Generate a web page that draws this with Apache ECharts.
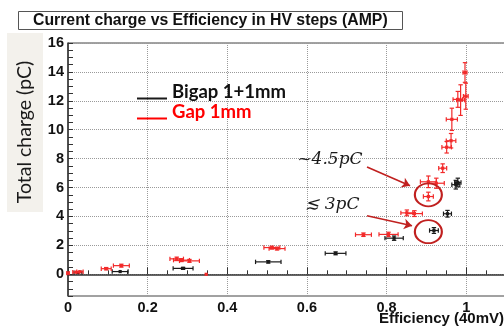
<!DOCTYPE html>
<html>
<head>
<meta charset="utf-8">
<script src="https://cdn.jsdelivr.net/npm/echarts@6/dist/echarts.min.js"></script>
<style>
  html, body { margin: 0; padding: 0; background: #fff; }
  #chart { width: 504px; height: 327px; }
</style>
</head>
<body>
<div id="chart"></div>
<script>
// Gap 1mm (red)
const gapEff = [0.0, 0.02, 0.03, 0.096, 0.134, 0.273, 0.285, 0.305, 0.347, 0.512, 0.525, 0.742, 0.805, 0.851, 0.87, 0.905, 0.905, 0.925, 0.941, 0.951, 0.962, 0.964, 0.979, 0.986, 0.999, 0.997];
const gapCharge = [0.08, 0.15, 0.18, 0.39, 0.6, 1.07, 0.98, 0.93, 0.0, 1.85, 1.78, 2.74, 2.76, 4.25, 4.2, 5.38, 6.4, 6.3, 7.34, 8.79, 9.24, 10.72, 12.1, 12.05, 12.32, 13.96];
const gapEffErr = [0.003, 0.008, 0.008, 0.0125, 0.02, 0.017, 0.02, 0.025, 0, 0.02, 0.02, 0.02, 0.024, 0.015, 0.02, 0.0125, 0.02, 0.02, 0.01, 0.012, 0.012, 0.014, 0.012, 0.01, 0.006, 0.005];
const gapChargeErr = [0.03, 0.05, 0.05, 0.08, 0.1, 0.12, 0.1, 0.1, 0, 0.1, 0.1, 0.12, 0.15, 0.2, 0.2, 0.3, 0.4, 0.35, 0.3, 0.4, 0.5, 0.77, 0.55, 1.06, 0.9, 0.68];

// Bigap 1+1mm (black)
const bigapEff = [0.025, 0.131, 0.289, 0.503, 0.672, 0.819, 0.919, 0.953, 0.974, 0.979];
const bigapCharge = [0.12, 0.19, 0.41, 0.86, 1.45, 2.5, 3.03, 4.19, 6.2, 6.35];
const bigapEffErr = [0.01, 0.02, 0.025, 0.032, 0.026, 0.023, 0.011, 0.01, 0.01, 0.008];
const bigapChargeErr = [0.03, 0.05, 0.07, 0.08, 0.1, 0.15, 0.2, 0.23, 0.3, 0.3];

// annotations: circled points, label anchors, arrows (data coords)
const circleCenters = [[0.905, 5.5], [0.905, 2.95]];
const noteTexts = ['~4.5pC', '\u2272 3pC'];
const noteAnchors = [[0.576, 7.93], [0.596, 4.82]];
const arrowFrom = [[0.751, 7.43], [0.751, 4.05]];
const arrowTo = [[0.859, 6.12], [0.864, 3.36]];

const RED = '#f22a2a';
const BLACK = '#1a1a1a';
const DARKRED = '#c0201f';

const toRows = (x, y, ex, ey) => x.map((v, i) => [v, y[i], ex[i], ey[i]]);

// draws a ROOT-like error cross with end caps
const errorCross = color => (params, api) => {
  const x = api.value(0), y = api.value(1), ex = api.value(2), ey = api.value(3);
  const c = api.coord([x, y]);
  const l = api.coord([x - ex, y]), r = api.coord([x + ex, y]);
  const t = api.coord([x, y + ey]), b = api.coord([x, y - ey]);
  const style = { stroke: color, lineWidth: 1.2 };
  const cap = 2.2;
  const seg = (x1, y1, x2, y2) => ({ type: 'line', shape: { x1, y1, x2, y2 }, style });
  const children = [];
  if (r[0] - l[0] > 1.5) {
    children.push(seg(l[0], c[1], r[0], c[1]));
    children.push(seg(l[0], c[1] - cap, l[0], c[1] + cap));
    children.push(seg(r[0], c[1] - cap, r[0], c[1] + cap));
  }
  if (b[1] - t[1] > 1.5) {
    children.push(seg(c[0], t[1], c[0], b[1]));
    children.push(seg(c[0] - cap, t[1], c[0] + cap, t[1]));
    children.push(seg(c[0] - cap, b[1], c[0] + cap, b[1]));
  }
  children.push({ type: 'rect', shape: { x: c[0] - 1.6, y: c[1] - 1.6, width: 3.2, height: 3.2 }, style: { fill: color } });
  return { type: 'group', children };
};

const chart = echarts.init(document.getElementById('chart'), null, { renderer: 'canvas' });

const option = {
  animation: false,
  backgroundColor: '#fff',
  title: {
    text: 'Current charge vs Efficiency in HV steps (AMP)',
    left: 18,
    top: 11,
    padding: [2, 15, 1, 15],
    borderWidth: 1,
    borderColor: '#555',
    textStyle: { fontFamily: 'Liberation Sans', fontSize: 15.8, fontWeight: 'bold', color: '#111', lineHeight: 16 }
  },
  legend: {
    orient: 'vertical',
    left: 132,
    top: 78,
    itemWidth: 30,
    itemHeight: 14,
    itemGap: 1,
    icon: 'path://M0,0 M0,12 L30,12 L30,14 L0,14 Z',
    textStyle: { fontFamily: 'Lato', fontSize: 18.5, fontWeight: 'bold' },
    data: [
      { name: 'Bigap 1+1mm', textStyle: { color: '#111' } },
      { name: 'Gap 1mm', textStyle: { color: '#ff0000' } }
    ]
  },
  grid: {
    left: 68, top: 43, width: 438, height: 253,
    outerBoundsMode: 'none',
    show: true, borderColor: '#444', borderWidth: 1, backgroundColor: '#fff'
  },
  xAxis: {
    type: 'value',
    min: 0, max: 1.1, interval: 0.2,
    axisLine: { lineStyle: { color: '#333', width: 1.5 } },
    axisTick: { inside: true, length: 7, lineStyle: { color: '#333' } },
    minorTick: { show: true, splitNumber: 4, length: 4, lineStyle: { color: '#333' } },
    axisLabel: {
      margin: 4, fontFamily: 'Liberation Sans', fontSize: 14.5, fontWeight: 'bold', color: '#111',
      formatter: v => (v > 1.05 ? '' : String(+v.toFixed(1)))
    },
    splitLine: { show: true, lineStyle: { color: '#9a9a9a', type: 'dotted' } }
  },
  yAxis: {
    type: 'value',
    min: -1.5, max: 16, interval: 0.5,
    axisLine: { lineStyle: { color: '#333', width: 1.5 } },
    axisTick: { inside: true, length: 5, lineStyle: { color: '#333' } },
    axisLabel: {
      margin: 4, fontFamily: 'Liberation Sans', fontSize: 14.5, fontWeight: 'bold', color: '#111',
      formatter: v => (Math.abs(v % 2) < 1e-9 ? String(v) : '')
    },
    splitLine: {
      show: true, showMinLine: true,
      lineStyle: { color: ['rgba(0,0,0,0)', 'rgba(0,0,0,0)', 'rgba(0,0,0,0)', '#9a9a9a'], type: 'dotted' }
    }
  },
  graphic: [
    { type: 'rect', left: 7, top: 33, shape: { width: 36, height: 179 }, style: { fill: '#f3f1ec' }, z: 0 },
    {
      type: 'text', x: 25, y: 132, rotation: Math.PI / 2, z: 1,
      style: { text: 'Total charge (pC)', fill: '#1a1a1a', font: '19.5px Lato', align: 'center', verticalAlign: 'middle' }
    },
    {
      type: 'text', x: 504, y: 319, z: 1,
      style: { text: 'Efficiency (40mV)', fill: '#111', font: 'bold 15px "Liberation Sans"', align: 'right', verticalAlign: 'middle' }
    }
  ],
  series: [
    {
      name: 'Bigap 1+1mm',
      type: 'custom',
      color: BLACK,
      renderItem: errorCross(BLACK),
      encode: { x: 0, y: 1 },
      data: toRows(bigapEff, bigapCharge, bigapEffErr, bigapChargeErr),
      z: 3
    },
    {
      name: 'Gap 1mm',
      type: 'custom',
      color: '#ff0000',
      renderItem: errorCross(RED),
      encode: { x: 0, y: 1 },
      data: toRows(gapEff, gapCharge, gapEffErr, gapChargeErr),
      z: 4,
      markLine: {
        silent: true,
        symbol: ['none', 'arrow'],
        symbolSize: 8,
        label: { show: false },
        lineStyle: { color: DARKRED, width: 1.6, type: 'solid' },
        data: arrowFrom.map((p, i) => [{ coord: p }, { coord: arrowTo[i] }])
      },
      markPoint: {
        silent: true,
        data: circleCenters.map(p => ({
          coord: p, symbol: 'circle', symbolSize: [27, 23],
          itemStyle: { color: 'rgba(0,0,0,0)', borderColor: DARKRED, borderWidth: 2 },
          label: { show: false }
        })).concat(noteAnchors.map((p, i) => ({
          coord: p, symbol: 'circle', symbolSize: 0,
          label: {
            show: true, position: 'right', distance: 0, formatter: noteTexts[i],
            fontFamily: 'DejaVu Serif', fontStyle: 'italic', fontSize: 17, color: '#1a1a1a'
          }
        })))
      }
    }
  ]
};

chart.setOption(option);
</script>
</body>
</html>
